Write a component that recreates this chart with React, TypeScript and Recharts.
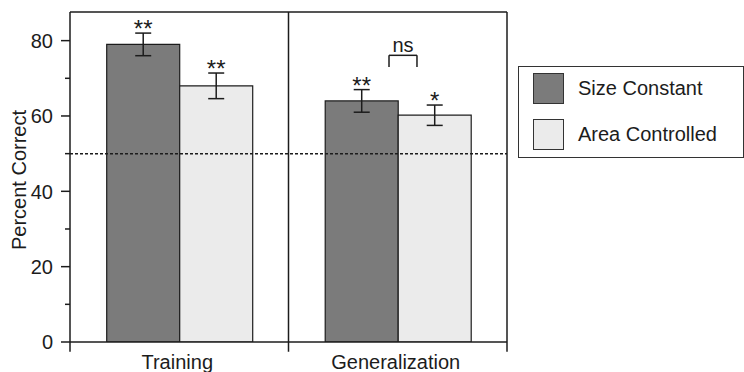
import React from 'react';
import {
  BarChart, Bar, XAxis, YAxis, ErrorBar, ReferenceLine, Legend, LabelList,
} from 'recharts';

const CATEGORIES = ['Training', 'Generalization'];
const SERIES_NAMES = ['Size Constant', 'Area Controlled'];
const SIZE_CONSTANT = [79, 64];
const SIZE_CONSTANT_ERR = [3, 3];
const AREA_CONTROLLED = [68, 60.2];
const AREA_CONTROLLED_ERR = [3.4, 2.7];
const SIZE_SIG = ['**', '**'];
const AREA_SIG = ['**', '*'];
const Y_TICKS = [0, 10, 20, 30, 40, 50, 60, 70, 80];
const Y_LABELED = [0, 20, 40, 60, 80];
const CHANCE = 50;
const Y_MAX = 87.6;
// panel boundaries on a 0..1 span across the two categories
const PANEL_EDGES = [0, 0.5, 1];
// "ns" comparison bracket (x on the 0..1 span, y in percent)
const NS_BRACKET_X = [0.73, 0.794];
const NS_BRACKET_Y = [76.1, 73.0];

const COLORS = ['#7b7b7b', '#ebebeb'];
const INK = '#1c1c1c';
const FONT = '"Liberation Sans", Arial, Helvetica, sans-serif';

const data = CATEGORIES.map((name, i) => ({
  name,
  size: SIZE_CONSTANT[i],
  sizeErr: SIZE_CONSTANT_ERR[i],
  sizeSig: SIZE_SIG[i],
  area: AREA_CONTROLLED[i],
  areaErr: AREA_CONTROLLED_ERR[i],
  areaSig: AREA_SIG[i],
}));

const makeSigLabel = (valKey: string, errKey: string) => (props: any) => {
  const { x, y, width, height, value, index } = props;
  const row: any = data[index];
  const v = row[valKey];
  const e = row[errKey];
  const ppu = height / v;
  const errTop = y - e * ppu;
  return (
    <text
      x={x + width / 2}
      y={errTop + 4}
      textAnchor="middle"
      fontSize={24}
      fontFamily={FONT}
      fill={INK}
    >
      {value}
    </text>
  );
};

const YTick = (props: any) => {
  const { x, y, payload } = props;
  const major = Y_LABELED.includes(payload.value);
  return (
    <g>
      <line x1={x - (major ? 9 : 5)} x2={x} y1={y} y2={y} stroke={INK} strokeWidth={1.5} />
      {major && (
        <text x={x - 17} y={y} dy="0.36em" textAnchor="end" fontSize={20} fontFamily={FONT} fill={INK}>
          {payload.value}
        </text>
      )}
    </g>
  );
};

const XTick = (props: any) => {
  const { x, y, payload } = props;
  return (
    <text x={x - 2} y={y} dy={27} textAnchor="middle" fontSize={20} fontFamily={FONT} fill={INK}>
      {payload.value}
    </text>
  );
};

const LegendBox = (props: any) => {
  const payload = [...(props.payload || [])].sort(
    (a: any, b: any) => SERIES_NAMES.indexOf(a.value) - SERIES_NAMES.indexOf(b.value)
  );
  return (
    <div
      style={{
        boxSizing: 'border-box',
        width: 226,
        height: 92,
        border: `1.5px solid #333`,
        position: 'relative',
        fontFamily: FONT,
      }}
    >
      {payload.map((entry: any, i: number) => (
        <div
          key={entry.value}
          style={{ position: 'absolute', left: 14, top: 6 + i * 46, display: 'flex', alignItems: 'center' }}
        >
          <div
            style={{
              boxSizing: 'border-box',
              width: 31,
              height: 31,
              background: entry.color,
              border: '1.2px solid #333',
            }}
          />
          <span style={{ marginLeft: 14, fontSize: 20, color: INK, lineHeight: '31px' }}>{entry.value}</span>
        </div>
      ))}
    </div>
  );
};

export default function App() {
  return (
    <div style={{ position: 'absolute', left: 0, top: 0, width: 744, height: 372, background: '#fff' }}>
      <BarChart
        width={744}
        height={372}
        data={data}
        margin={{ top: 12, right: 237, bottom: 0, left: 0 }}
        barCategoryGap="16.8%"
        barGap={0}
      >
        <XAxis
          xAxisId="cat"
          dataKey="name"
          type="category"
          height={30}
          tickLine={false}
          axisLine={{ stroke: INK, strokeWidth: 1.5 }}
          tick={<XTick />}
          tickSize={0}
          tickMargin={0}
          interval={0}
        />
        <XAxis xAxisId="num" type="number" domain={[0, 1]} allowDataOverflow hide />
        <YAxis
          width={70}
          domain={[0, Y_MAX]}
          ticks={Y_TICKS}
          interval={0}
          allowDataOverflow
          tickLine={false}
          tickSize={0}
          tickMargin={0}
          tick={<YTick />}
          axisLine={{ stroke: INK, strokeWidth: 1.5 }}
          label={{
            content: (p: any) => {
              const vb = p.viewBox || { x: 0, y: 12, height: 330 };
              const cx = vb.x + 26;
              const cy = vb.y + vb.height / 2 + 3;
              return (
                <text
                  x={cx}
                  y={cy}
                  transform={`rotate(-90 ${cx} ${cy})`}
                  textAnchor="middle"
                  fontSize={20}
                  fontFamily={FONT}
                  fill={INK}
                >
                  Percent Correct
                </text>
              );
            },
          }}
        />
        <Legend
          layout="horizontal"
          verticalAlign="middle"
          align="center"
          content={<LegendBox />}
          wrapperStyle={{ position: 'absolute', left: 518, top: 66, width: 226, height: 92 }}
        />
        <Bar
          xAxisId="cat"
          dataKey="size"
          name={SERIES_NAMES[0]}
          fill={COLORS[0]}
          stroke={INK}
          strokeWidth={1.2}
          isAnimationActive={false}
        >
          <ErrorBar dataKey="sizeErr" width={8} stroke={INK} strokeWidth={1.5} direction="y" />
          <LabelList dataKey="sizeSig" content={makeSigLabel('size', 'sizeErr')} />
        </Bar>
        <Bar
          xAxisId="cat"
          dataKey="area"
          name={SERIES_NAMES[1]}
          fill={COLORS[1]}
          stroke={INK}
          strokeWidth={1.2}
          isAnimationActive={false}
        >
          <ErrorBar dataKey="areaErr" width={8} stroke={INK} strokeWidth={1.5} direction="y" />
          <LabelList dataKey="areaSig" content={makeSigLabel('area', 'areaErr')} />
        </Bar>
        <ReferenceLine xAxisId="num" y={CHANCE} stroke={INK} strokeWidth={1.5} strokeDasharray="3 2" />
        <ReferenceLine xAxisId="num" y={Y_MAX} stroke={INK} strokeWidth={1.5} ifOverflow="visible" />
        <ReferenceLine
          xAxisId="num"
          segment={[{ x: PANEL_EDGES[0], y: -2.6 }, { x: PANEL_EDGES[0], y: 0 }]}
          stroke={INK}
          strokeWidth={1.5}
          ifOverflow="visible"
        />
        <ReferenceLine
          xAxisId="num"
          segment={[{ x: PANEL_EDGES[1], y: -2.6 }, { x: PANEL_EDGES[1], y: Y_MAX }]}
          stroke={INK}
          strokeWidth={1.5}
          ifOverflow="visible"
        />
        <ReferenceLine
          xAxisId="num"
          segment={[{ x: PANEL_EDGES[2], y: -2.6 }, { x: PANEL_EDGES[2], y: Y_MAX }]}
          stroke={INK}
          strokeWidth={1.5}
          ifOverflow="visible"
        />
        <ReferenceLine
          xAxisId="num"
          segment={[{ x: NS_BRACKET_X[0], y: NS_BRACKET_Y[0] }, { x: NS_BRACKET_X[1], y: NS_BRACKET_Y[0] }]}
          stroke={INK}
          strokeWidth={1.5}
          ifOverflow="visible"
          label={{ value: 'ns', position: 'top', fontSize: 20, fill: INK, offset: 3, fontFamily: FONT }}
        />
        <ReferenceLine
          xAxisId="num"
          segment={[{ x: NS_BRACKET_X[0], y: NS_BRACKET_Y[0] }, { x: NS_BRACKET_X[0], y: NS_BRACKET_Y[1] }]}
          stroke={INK}
          strokeWidth={1.5}
          ifOverflow="visible"
        />
        <ReferenceLine
          xAxisId="num"
          segment={[{ x: NS_BRACKET_X[1], y: NS_BRACKET_Y[0] }, { x: NS_BRACKET_X[1], y: NS_BRACKET_Y[1] }]}
          stroke={INK}
          strokeWidth={1.5}
          ifOverflow="visible"
        />
      </BarChart>
    </div>
  );
}
